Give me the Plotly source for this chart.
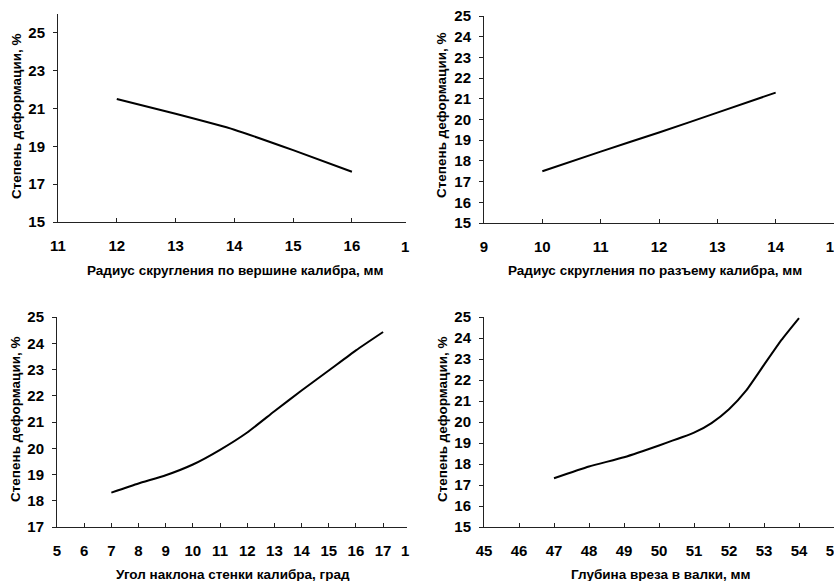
import plotly.graph_objects as go

W, H = 834, 581

# ---- data ----
r_top_x = [12, 13, 14, 15, 16]
r_top_y = [21.5, 20.72, 19.88, 18.8, 17.66]

r_split_x = [10, 11, 12, 13, 14]
r_split_y = [17.5, 18.45, 19.37, 20.33, 21.3]

angle_x = [7, 8, 9, 10, 11, 12, 13, 14, 15, 16, 17]
angle_y = [18.31, 18.66, 18.97, 19.38, 19.94, 20.6, 21.41, 22.2, 22.96, 23.73, 24.43]

depth_x = [47, 48, 49, 50, 51, 51.5, 52, 52.5, 53, 53.5, 54]
depth_y = [17.32, 17.88, 18.32, 18.88, 19.49, 19.95, 20.61, 21.52, 22.72, 23.91, 24.95]

# tick values
x_ticks = [
    [11, 12, 13, 14, 15, 16],
    [9, 10, 11, 12, 13, 14, 15],
    [5, 6, 7, 8, 9, 10, 11, 12, 13, 14, 15, 16, 17],
    [45, 46, 47, 48, 49, 50, 51, 52, 53, 54, 55],
]
y_ticks = [
    [15, 17, 19, 21, 23, 25],
    [15, 16, 17, 18, 19, 20, 21, 22, 23, 24, 25],
    [17, 18, 19, 20, 21, 22, 23, 24, 25],
    [15, 16, 17, 18, 19, 20, 21, 22, 23, 24, 25],
]

y_title = "Степень деформации, %"
x_titles = [
    "Радиус скругления по вершине калибра, мм",
    "Радиус скругления по разъему калибра, мм",
    "Угол наклона стенки калибра, град",
    "Глубина вреза в валки, мм",
]

FONT = "Liberation Sans, Arial, sans-serif"


def px(x):
    return x / W


def py(y):
    return (H - y) / H


def b(t):
    return "<b>%s</b>" % t


fig = go.Figure()

series = [(r_top_x, r_top_y), (r_split_x, r_split_y), (angle_x, angle_y), (depth_x, depth_y)]
for i, (xs, ys) in enumerate(series):
    sfx = "" if i == 0 else str(i + 1)
    fig.add_trace(go.Scatter(
        x=xs, y=ys, mode="lines",
        line=dict(color="black", width=2, shape="spline", smoothing=0.5),
        xaxis="x" + sfx, yaxis="y" + sfx, showlegend=False, hoverinfo="skip",
    ))

# panel geometry in px: (x_left, x_right, y_top, y_bottom)
geo = [
    (58, 406, 14, 222),
    (484, 834, 16, 223),
    (57, 407, 317, 527),
    (484, 834, 317, 527),
]
xranges = [[11, 16.92], [9, 15], [5, 17.88], [45, 55]]
yranges = [[15, 26], [15, 25], [17, 25], [15, 25]]

TICKFONT = dict(family=FONT, size=15, color="black")

axis_common = dict(
    showgrid=False, zeroline=False, showline=True, linecolor="#222222", linewidth=1,
    ticks="outside", ticklen=4, tickcolor="#222222", tickwidth=1,
    fixedrange=True, automargin=False,
)

layout = dict(
    width=W, height=H, margin=dict(l=0, r=0, t=0, b=0, autoexpand=False),
    paper_bgcolor="white", plot_bgcolor="white", showlegend=False,
)

for i in range(4):
    sfx = "" if i == 0 else str(i + 1)
    xl, xr, yt, yb = geo[i]
    xa = dict(axis_common)
    xa.update(domain=[px(xl), px(xr)], range=xranges[i],
              tickvals=x_ticks[i], ticktext=[b(v) for v in x_ticks[i]],
              ticks="inside", anchor="y" + sfx, ticklabelstandoff=10,
              ticklabeloverflow="allow", tickfont=TICKFONT)
    ya = dict(axis_common)
    ya.update(domain=[py(yb), py(yt)], range=yranges[i],
              tickvals=y_ticks[i], ticktext=[b(v) for v in y_ticks[i]],
              anchor="x" + sfx, ticklabelstandoff=5, tickfont=TICKFONT)
    layout["xaxis" + sfx] = xa
    layout["yaxis" + sfx] = ya

fig.update_layout(**layout)

TITLEFONT = dict(family=FONT, size=13.5, color="black")
ann = []
# x-axis titles
xt_pos = [(235, 270.5), (655, 270.5), (233, 574), (661, 574)]
for t, (cx, cy) in zip(x_titles, xt_pos):
    ann.append(dict(text=b(t), x=px(cx), y=py(cy), xref="paper", yref="paper",
                    xanchor="center", yanchor="middle", showarrow=False,
                    font=TITLEFONT))
# y-axis titles
yt_pos = [(16, 117), (442, 116), (15, 420), (442, 420)]
for cx, cy in yt_pos:
    ann.append(dict(text=b(y_title), x=px(cx), y=py(cy), xref="paper", yref="paper",
                    xanchor="center", yanchor="middle", showarrow=False, textangle=-90,
                    font=TITLEFONT))
# partially visible last tick labels of the left panels (cut by the panel edge)
ann.append(dict(text=b("1"), x=px(411), xref="paper", y=py(247), yref="paper",
                xanchor="right", yanchor="middle", showarrow=False, font=TICKFONT))
ann.append(dict(text=b("1"), x=px(411), xref="paper", y=py(550), yref="paper",
                xanchor="right", yanchor="middle", showarrow=False, font=TICKFONT))
fig.update_layout(annotations=ann)

fig.write_html(
    "out.html",
    config={"displayModeBar": False, "staticPlot": True},
    post_script="document.body.style.margin='0';document.body.style.overflow='hidden';",
)
